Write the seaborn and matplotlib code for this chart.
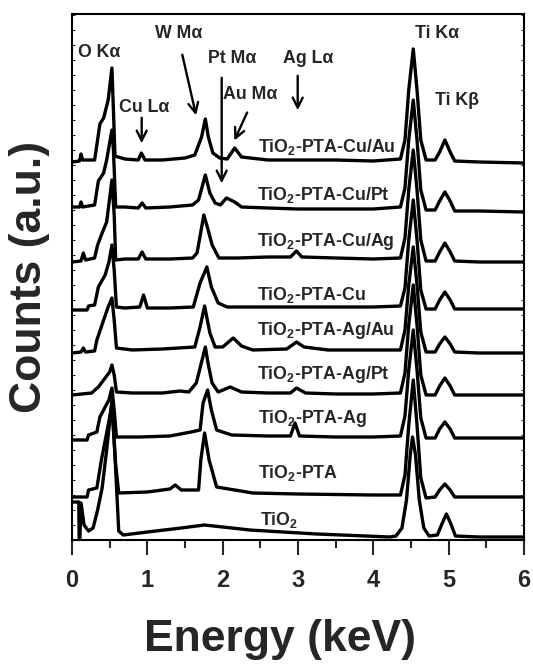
import numpy as np
import pandas as pd
import matplotlib.pyplot as plt
import seaborn as sns

sns.set_style('ticks')
plt.rcParams['font.family'] = ['Liberation Sans', 'DejaVu Sans']
plt.rcParams['font.weight'] = 'bold'
plt.rcParams['mathtext.fontset'] = 'custom'
plt.rcParams['mathtext.rm'] = 'Liberation Sans:bold'
plt.rcParams['mathtext.bf'] = 'Liberation Sans:bold'
plt.rcParams['mathtext.default'] = 'bf'

# EDX spectra, counts above each trace's own baseline (a.u.)
samples = ['TiO$_2$-PTA-Cu/Au', 'TiO$_2$-PTA-Cu/Pt', 'TiO$_2$-PTA-Cu/Ag', 'TiO$_2$-PTA-Cu',
           'TiO$_2$-PTA-Ag/Au', 'TiO$_2$-PTA-Ag/Pt', 'TiO$_2$-PTA-Ag', 'TiO$_2$-PTA', 'TiO$_2$']
offsets = [380, 332, 280, 232, 189, 146, 103, 45, 3]

e_cu_au = [0.00, 0.10, 0.12, 0.14, 0.30, 0.33, 0.37, 0.42, 0.48, 0.53, 0.55, 0.57, 0.70, 0.88, 0.92,
           0.97, 1.20, 1.50, 1.63, 1.72, 1.77, 1.81, 1.87, 1.96, 2.06, 2.16, 2.25, 2.60, 3.00, 3.50,
           4.00, 4.36, 4.42, 4.47, 4.53, 4.58, 4.63, 4.70, 4.82, 4.88, 4.95, 5.02, 5.08, 5.40, 6.00]
c_cu_au = [-2, -1, 6, 0, 0, 15, 36, 42, 60, 92, 50, 4, 1, 0, 7,
           0, 0, 2, 5, 23, 41, 23, 7, 2, 1, 12, 3, 0, 0, 0,
           -1, 1, 20, 70, 111, 70, 20, 0, 0, 8, 20, 8, -1, -2, -3]

e_cu_pt = [0.00, 0.10, 0.12, 0.14, 0.30, 0.35, 0.42, 0.46, 0.53, 0.55, 0.58, 0.70, 0.88, 0.93, 0.98,
           1.30, 1.60, 1.68, 1.77, 1.83, 1.90, 1.97, 2.05, 2.16, 2.25, 2.60, 3.00, 3.50, 4.00, 4.36,
           4.42, 4.47, 4.53, 4.58, 4.63, 4.70, 4.82, 4.88, 4.95, 5.02, 5.08, 5.40, 6.00]
c_cu_pt = [1, 1, 6, 1, 3, 27, 35, 48, 78, 58, 1, 1, 0, 5, 0,
           1, 3, 8, 33, 15, 5, 3, 10, 6, 1, 0, -1, -1, -1, 1,
           20, 68, 108, 68, 18, -2, -2, 7, 16, 7, -3, -3, -4]

e_cu_ag = [0.00, 0.12, 0.15, 0.18, 0.30, 0.34, 0.40, 0.46, 0.53, 0.56, 0.58, 0.70, 0.88, 0.93, 0.98,
           1.30, 1.60, 1.66, 1.75, 1.80, 1.86, 1.95, 2.20, 2.60, 2.90, 2.98, 3.05, 3.50, 4.00, 4.36,
           4.42, 4.47, 4.53, 4.58, 4.63, 4.70, 4.82, 4.88, 4.95, 5.02, 5.08, 5.40, 6.00]
c_cu_ag = [-2, -1, 7, 0, 2, 15, 27, 38, 80, 45, 0, 1, 1, 8, 1,
           1, 2, 7, 45, 32, 15, 2, 2, 3, 3, 9, 3, 2, 1, 2,
           22, 70, 110, 70, 20, -1, -1, 8, 17, 8, -1, -2, -2]

e_cu = [0.00, 0.20, 0.22, 0.30, 0.35, 0.44, 0.49, 0.53, 0.56, 0.59, 0.70, 0.90, 0.95, 1.00, 1.30,
        1.61, 1.70, 1.79, 1.85, 1.94, 2.06, 2.60, 3.00, 3.50, 4.00, 4.36, 4.42, 4.47, 4.53, 4.58,
        4.63, 4.70, 4.82, 4.88, 4.95, 5.02, 5.08, 5.40, 6.00]
c_cu = [-2, -2, 2, 3, 21, 33, 46, 63, 38, 1, 0, 1, 13, 0, 0,
        1, 25, 41, 21, 5, 1, 1, 1, 1, 1, 2, 20, 68, 108, 68,
        18, -1, -1, 8, 16, 8, -1, -1, -1]

e_ag_au = [0.00, 0.12, 0.15, 0.18, 0.30, 0.33, 0.42, 0.48, 0.53, 0.56, 0.59, 0.80, 1.20, 1.63, 1.70,
           1.76, 1.83, 1.90, 2.00, 2.14, 2.25, 2.40, 2.85, 2.98, 3.08, 3.40, 4.00, 4.36, 4.42, 4.47,
           4.53, 4.58, 4.63, 4.70, 4.82, 4.88, 4.95, 5.02, 5.08, 5.40, 6.00]
c_ag_au = [-2, -1, 3, -1, 0, 11, 31, 44, 53, 31, 3, 1, 2, 4, 24,
           45, 18, 4, 4, 13, 5, 1, 2, 9, 4, 1, 1, 1, 21, 66,
           104, 66, 19, -1, -1, 7, 14, 7, -1, -2, -2]

e_ag_pt = [0.00, 0.26, 0.35, 0.44, 0.50, 0.53, 0.56, 0.59, 0.80, 1.20, 1.43, 1.55, 1.65, 1.71, 1.77,
           1.81, 1.86, 1.94, 2.10, 2.25, 2.60, 2.90, 2.98, 3.10, 3.50, 4.00, 4.36, 4.42, 4.47, 4.53,
           4.58, 4.63, 4.70, 4.82, 4.88, 4.95, 5.02, 5.08, 5.40, 6.00]
c_ag_pt = [-1, 1, 7, 16, 22, 29, 19, 2, 1, 1, 3, 2, 11, 29, 47,
           29, 11, 2, 7, 2, 1, 1, 6, 1, 0, 0, 1, 21, 69, 109,
           69, 19, -1, -1, 8, 16, 8, -1, -1, -1]

e_ag = [0.00, 0.20, 0.22, 0.33, 0.37, 0.44, 0.49, 0.53, 0.56, 0.59, 0.90, 1.30, 1.58, 1.70, 1.74,
        1.80, 1.85, 1.92, 2.12, 2.60, 2.90, 2.96, 3.02, 3.50, 4.00, 4.36, 4.42, 4.47, 4.53, 4.58,
        4.63, 4.70, 4.82, 4.88, 4.95, 5.02, 5.08, 5.40, 6.00]
c_ag = [-3, -3, 2, 5, 20, 30, 37, 49, 27, 0, 0, 1, 5, 7, 34,
        47, 27, 7, 2, 1, 1, 14, 1, 0, 0, 1, 21, 67, 107, 67,
        19, -1, -1, 8, 15, 8, -1, -1, -1]

e_pta = [0.00, 0.20, 0.22, 0.33, 0.39, 0.46, 0.53, 0.58, 0.62, 1.00, 1.30, 1.37, 1.45, 1.68, 1.71,
         1.76, 1.82, 1.92, 2.00, 2.40, 3.00, 4.00, 4.36, 4.42, 4.47, 4.53, 4.58, 4.63, 4.70, 4.82,
         4.88, 4.95, 5.02, 5.08, 5.40, 6.00]
c_pta = [-2, -2, 5, 7, 35, 62, 90, 30, 2, 3, 6, 10, 5, 5, 35,
         62, 35, 8, 7, 2, 1, 0, 0, 20, 70, 115, 70, 17, -3, -2,
         5, 11, 5, -2, -2, -2]

e_tio2 = [0.00, 0.09, 0.095, 0.105, 0.12, 0.16, 0.22, 0.28, 0.34, 0.40, 0.46, 0.53, 0.58, 0.62, 0.68,
          1.00, 1.45, 1.76, 2.12, 2.36, 2.80, 3.25, 4.22, 4.30, 4.38, 4.44, 4.49, 4.52, 4.56, 4.61,
          4.67, 4.74, 4.85, 4.91, 4.97, 5.03, 5.09, 5.40, 6.00]
c_tio2 = [35, 35, -1, -1, 34, 12, 6, 9, 27, 49, 87, 137, 67, 6, 2,
          5, 9, 12, 9, 7, 5, 3, 0, 1, 9, 37, 82, 100, 82, 37,
          9, 1, 2, 13, 23, 13, 1, 0, 0]

energies = [e_cu_au, e_cu_pt, e_cu_ag, e_cu, e_ag_au, e_ag_pt, e_ag, e_pta, e_tio2]
counts = [c_cu_au, c_cu_pt, c_cu_ag, c_cu, c_ag_au, c_ag_pt, c_ag, c_pta, c_tio2]

frames = []
for name, e, c, off in zip(samples, energies, counts, offsets):
    frames.append(pd.DataFrame({'sample': name, 'energy': e,
                                'signal': np.array(c) + off}))
df = pd.concat(frames, ignore_index=True)

fig = plt.figure(figsize=(5.33, 6.65), dpi=100)
ax = fig.add_axes([72/533, 125/665, 452/533, 526/665])

sns.lineplot(data=df, x='energy', y='signal', units='sample', estimator=None,
             sort=False, color='black', lw=2.4, ax=ax)

ax.set_xlim(0, 6)
ax.set_ylim(0, 526)

# sample labels
label_x = [2.47, 2.456, 2.456, 2.456, 2.456, 2.456, 2.47, 2.47, 2.50]
label_y = [388, 340, 294, 240, 205, 161, 117, 62, 15]
for name, lx, ly in zip(samples, label_x, label_y):
    ax.text(lx, ly, name, fontsize=12.8, fontweight='bold', va='baseline', ha='left')

# peak labels
peak_names = ['O K\u03b1', 'Cu L\u03b1', 'W M\u03b1', 'Pt M\u03b1', 'Au M\u03b1', 'Ag L\u03b1',
              'Ti K\u03b1', 'Ti K\u03b2']
peak_x = [0.08, 0.62, 1.10, 1.80, 2.00, 2.80, 4.55, 4.82]
peak_y = [483, 428, 502, 477, 441, 477, 502, 435]
for name, px, py in zip(peak_names, peak_x, peak_y):
    ax.text(px, py, name, fontsize=12.8, fontweight='bold', va='baseline', ha='left')

arrows = [((0.925, 425), (0.925, 394)),
          ((1.456, 488), (1.655, 422)),
          ((1.987, 465), (1.987, 354)),
          ((2.34, 430), (2.14, 397)),
          ((2.996, 467), (2.996, 427))]
for start, end in arrows:
    ax.annotate('', xy=end, xytext=start,
                arrowprops=dict(arrowstyle='->', lw=1.7, color='black', mutation_scale=18))

ax.set_xticks(range(7))
ax.set_xticks(np.arange(0.5, 6, 1), minor=True)
ax.set_yticks(np.arange(0, 526, 15))
ax.set_yticklabels([])
ax.tick_params(axis='x', which='major', direction='out', length=11, width=1.5,
               labelsize=17, pad=10)
ax.tick_params(axis='x', which='minor', direction='out', length=5.5, width=1.5)
ax.tick_params(axis='y', direction='in', length=2.5, width=0.8, left=True, right=True)
for lab in ax.get_xticklabels():
    lab.set_fontweight('bold')
for sp in ax.spines.values():
    sp.set_visible(True)
    sp.set_color('black')
    sp.set_linewidth(1.5)

ax.set_xlabel('Energy (keV)', fontsize=32, fontweight='bold', va='center')
ax.xaxis.set_label_coords(0.46, -0.19)
ax.set_ylabel('Counts (a.u.)', fontsize=32, fontweight='bold', va='center')
ax.yaxis.set_label_coords(-0.093, 0.5)

fig.savefig('out.png', dpi=100)
